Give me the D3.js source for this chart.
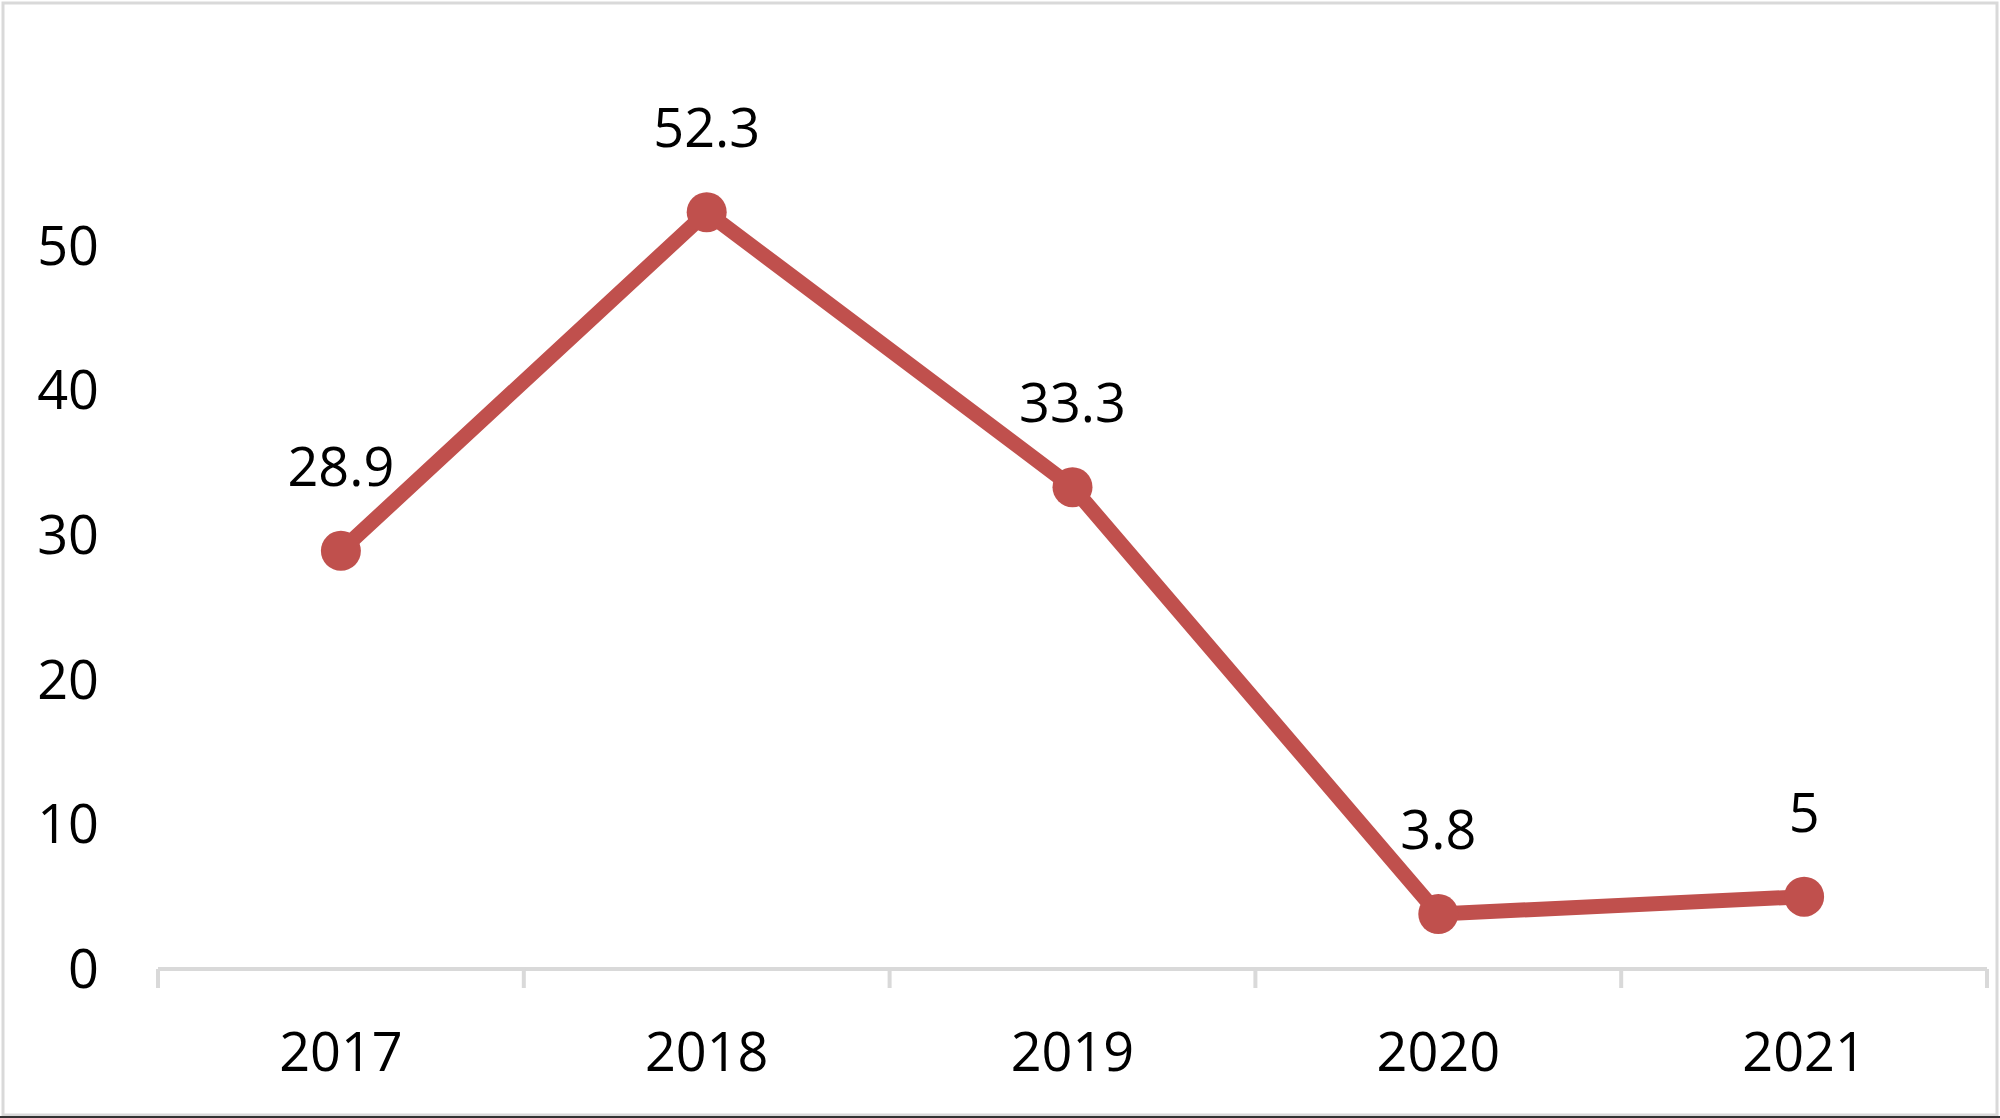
<!DOCTYPE html>
<html><head><meta charset="utf-8">
<script src="https://cdn.jsdelivr.net/npm/d3@7"></script>
<style>html,body{margin:0;padding:0;background:#fff;}svg{display:block;}</style>
</head><body>
<script>
const categories = ["2017","2018","2019","2020","2021"];
const values = [28.9, 52.3, 33.3, 3.8, 5];
const yTicks = [0,10,20,30,40,50];

const W = 2000, H = 1118;
const svg = d3.select("body").append("svg").attr("width", W).attr("height", H);
svg.append("rect").attr("x",0).attr("y",0).attr("width",W).attr("height",H).attr("fill","#fff");
svg.append("rect").attr("x",3).attr("y",3).attr("width",W-6).attr("height",H-6)
  .attr("fill","none").attr("stroke","#d9d9d9").attr("stroke-width",3);
svg.append("line").attr("x1",0).attr("x2",W).attr("y1",H-1).attr("y2",H-1).attr("stroke","#333").attr("stroke-width",2);

const font = "'Open Sans', Lato, sans-serif";
const fs = 54;

const x = d3.scaleBand().domain(categories).range([158, 1987]);
const y = d3.scaleLinear().domain([0, 60]).range([969, 969 - 60*14.47]);

svg.append("line").attr("x1", 158).attr("x2", 1987).attr("y1", y(0)).attr("y2", y(0))
  .attr("stroke", "#d9d9d9").attr("stroke-width", 4);
const edges = categories.map(c => x(c)).concat([x.range()[1]]);
svg.selectAll(".xtick").data(edges).enter().append("line")
  .attr("x1", d => d).attr("x2", d => d).attr("y1", y(0)).attr("y2", y(0) + 19)
  .attr("stroke", "#d9d9d9").attr("stroke-width", 4);

svg.selectAll(".xlab").data(categories).enter().append("text")
  .attr("x", d => x(d) + x.bandwidth()/2).attr("y", 1050)
  .attr("text-anchor", "middle").attr("dominant-baseline", "central")
  .attr("font-family", font).attr("font-size", fs).attr("fill", "#000").text(d => d);

svg.selectAll(".ylab").data(yTicks).enter().append("text")
  .attr("x", 99).attr("y", d => y(d) - 2)
  .attr("text-anchor", "end").attr("dominant-baseline", "central")
  .attr("font-family", font).attr("font-size", fs).attr("fill", "#000").text(d => d);

const cx = (d, i) => x(categories[i]) + x.bandwidth()/2;
const line = d3.line().x((d, i) => cx(d, i)).y(d => y(d));
svg.append("path").datum(values).attr("d", line)
  .attr("fill", "none").attr("stroke", "#C0504D").attr("stroke-width", 15)
  .attr("stroke-linejoin", "round");
svg.selectAll(".pt").data(values).enter().append("circle")
  .attr("cx", cx).attr("cy", d => y(d)).attr("r", 20).attr("fill", "#C0504D");

svg.selectAll(".dl").data(values).enter().append("text")
  .attr("x", cx).attr("y", d => y(d) - 86)
  .attr("text-anchor", "middle").attr("dominant-baseline", "central")
  .attr("font-family", font).attr("font-size", fs).attr("fill", "#000").text(d => d);
</script>
</body></html>
